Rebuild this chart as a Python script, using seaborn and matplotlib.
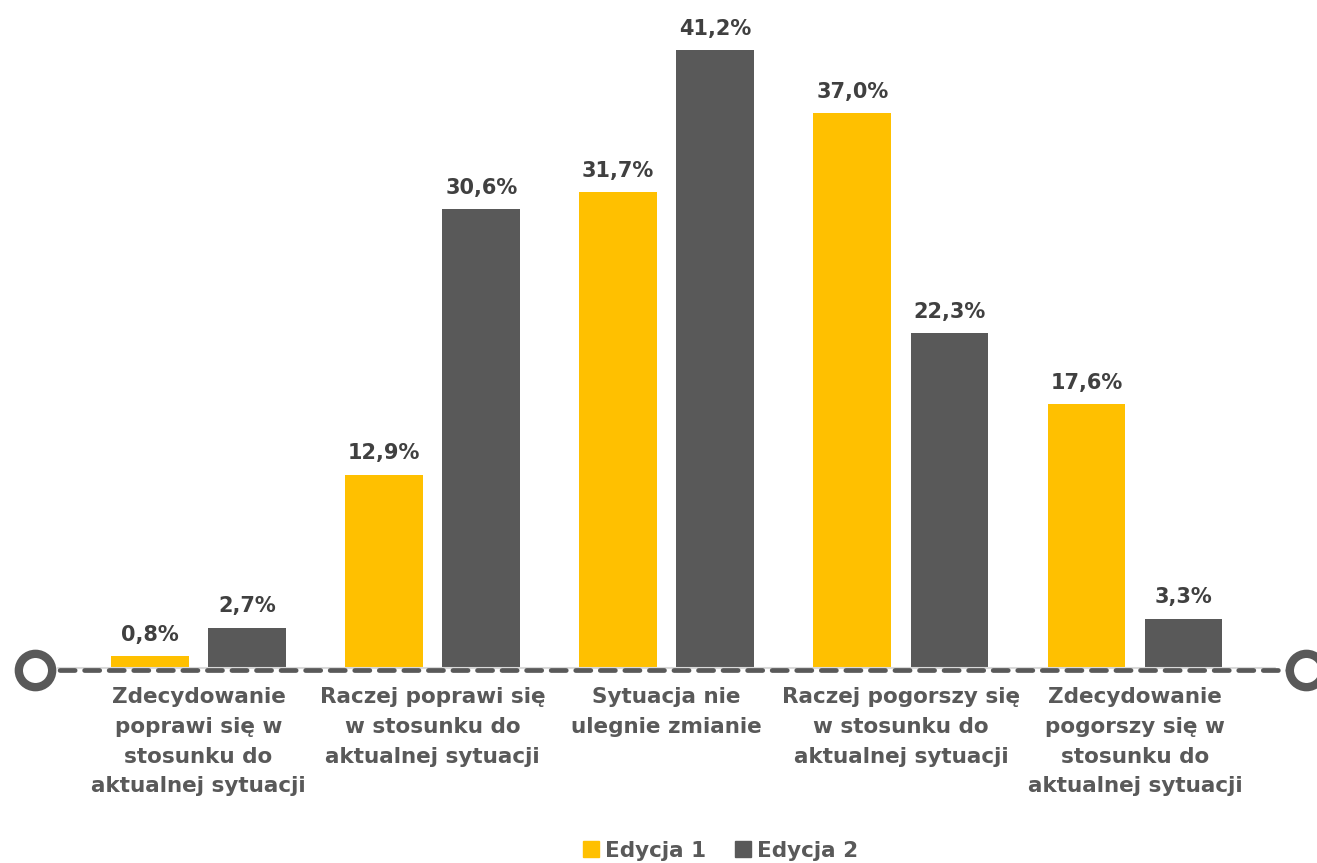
import matplotlib
matplotlib.use("Agg")
import matplotlib.pyplot as plt
import seaborn as sns
import pandas as pd
from matplotlib.lines import Line2D

categories = [
    "Zdecydowanie\npoprawi się w\nstosunku do\naktualnej sytuacji",
    "Raczej poprawi się\nw stosunku do\naktualnej sytuacji",
    "Sytuacja nie\nulegnie zmianie",
    "Raczej pogorszy się\nw stosunku do\naktualnej sytuacji",
    "Zdecydowanie\npogorszy się w\nstosunku do\naktualnej sytuacji",
]
edycja_1 = [0.8, 12.9, 31.7, 37.0, 17.6]
edycja_2 = [2.7, 30.6, 41.2, 22.3, 3.3]
series_names = ["Edycja 1", "Edycja 2"]
colors = ["#FFC000", "#595959"]

df = pd.DataFrame({
    "kategoria": categories * 2,
    "wartosc": edycja_1 + edycja_2,
    "edycja": [series_names[0]] * 5 + [series_names[1]] * 5,
})

sns.set_style("white")
plt.rcParams["font.family"] = ["DejaVu Sans"]

W, H = 1317, 863
fig = plt.figure(figsize=(W / 100, H / 100), dpi=100)
ax = fig.add_axes([81.5 / W, 195 / H, 1170.5 / W, 645 / H])

sns.barplot(data=df, x="kategoria", y="wartosc", hue="edycja",
            palette=colors, width=0.83, gap=0.2, ax=ax, legend=False,
            saturation=1, errorbar=None, linewidth=0)

ax.set_xlim(-0.5, 4.5)
ax.set_ylim(0, 43)

for cont in ax.containers:
    labels = [f"{v:.1f}%".replace(".", ",") for v in cont.datavalues]
    ax.bar_label(cont, labels=labels, padding=8, fontsize=15,
                 fontweight="bold", color="#404040")

# linia bazowa: cienka jasna + przerywana z kółkami na końcach
ax.plot([-0.6, 4.6], [0, 0], color="#d9d9d9", lw=1.5, clip_on=False, zorder=1)
ax.plot([-0.70, 4.73], [-0.1, -0.1], color="#595959", lw=3.4,
        ls=(0, (3.2, 2.0)), clip_on=False, zorder=2, dash_capstyle="round")
ax.plot([-0.70, 4.73], [-0.1, -0.1], ls="none", marker="o", markersize=24,
        markerfacecolor="white", markeredgecolor="#595959",
        markeredgewidth=6, clip_on=False, zorder=3)

ax.set_xlabel("")
ax.set_ylabel("")
ax.set_yticks([])
ax.tick_params(axis="x", length=0, pad=14)
for lab in ax.get_xticklabels():
    lab.set_fontsize(15.5)
    lab.set_fontweight("bold")
    lab.set_color("#595959")
    lab.set_linespacing(1.6)
    lab.set_verticalalignment("top")
sns.despine(ax=ax, left=True, bottom=True)

handles = [Line2D([], [], ls="none", marker="s", markersize=12,
                  markerfacecolor=c, markeredgecolor=c) for c in colors]
fig.legend(handles, series_names, loc="center", bbox_to_anchor=(719 / W, 1 - 851 / H),
           ncol=2, frameon=False, handletextpad=0.15, columnspacing=1.2,
           prop={"size": 15.5, "weight": "bold"}, labelcolor="#595959", handlelength=1.0)

fig.savefig("out.png", dpi=100)
